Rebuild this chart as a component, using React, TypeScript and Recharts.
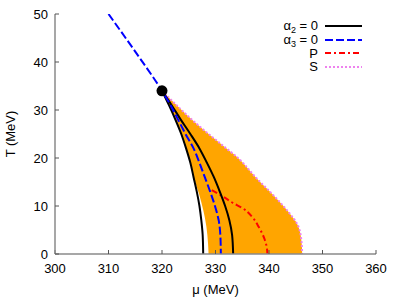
import React from 'react';
import { ComposedChart, Area, Line, XAxis, YAxis, ReferenceDot } from 'recharts';

const muTicks = [300, 310, 320, 330, 340, 350, 360];
const tTicks = [0, 10, 20, 30, 40, 50];

const criticalPoint = { mu: 320, T: 34 };

// alpha2 = 0 : two branches
const alpha2InnerT = [34, 31, 28, 25, 22, 19, 16, 13, 10, 7, 4, 0];
const alpha2InnerMu = [320, 321.3, 322.5, 323.6, 324.5, 325.3, 325.9, 326.5, 327.0, 327.35, 327.6, 327.7];
const alpha2OuterT = [34, 31, 28, 25, 22, 19, 16, 13, 10, 7, 4, 0];
const alpha2OuterMu = [320, 321.8, 323.5, 325.3, 327.0, 328.4, 329.7, 330.8, 331.8, 332.6, 333.1, 333.3];

// alpha3 = 0
const alpha3T = [50, 42, 34, 31, 28, 25, 22, 19, 16, 13, 10, 7, 4, 0];
const alpha3Mu = [310, 315.1, 320, 321.6, 323.0, 324.4, 325.9, 327.0, 328.0, 329.0, 329.9, 330.6, 330.9, 331.0];

// P
const pT = [13.3, 11.9, 10.6, 9.6, 7.8, 5.6, 3.3, 1.3, 0];
const pMu = [329.3, 331.5, 333.3, 335.0, 336.8, 338.1, 339.1, 339.6, 339.7];

// S
const sT = [34, 26.5, 23.1, 19.6, 16.1, 12.6, 9.2, 5.7, 2.3, 0];
const sMu = [320, 327.1, 330.8, 334.6, 337.4, 340.5, 343.3, 345.5, 346.1, 346.2];

// shaded region (left boundary vs S)
const regionT = [34, 26.5, 23.1, 19.6, 16.1, 12.6, 9.2, 5.7, 2.3, 0];
const regionLeft = [320, 323.1, 324.2, 325.2, 325.9, 326.9, 327.7, 328.3, 328.6, 328.7];
const regionRight = [320, 327.1, 330.8, 334.6, 337.4, 340.5, 343.3, 345.5, 346.1, 346.2];

const legendItems = [
  { base: 'α', sub: '2', rest: ' = 0', color: '#000000', dash: '', width: 2 },
  { base: 'α', sub: '3', rest: ' = 0', color: '#0000ff', dash: '8 3', width: 2 },
  { base: 'P', sub: '', rest: '', color: '#ff0000', dash: '6 3 2 3', width: 2 },
  { base: 'S', sub: '', rest: '', color: '#ee82ee', dash: '2 2', width: 2 },
];

const toRows = (ts: number[], mus: number[]) => ts.map((T, i) => ({ T, mu: mus[i] }));

const innerData = toRows(alpha2InnerT, alpha2InnerMu);
const outerData = toRows(alpha2OuterT, alpha2OuterMu);
const alpha3Data = toRows(alpha3T, alpha3Mu);
const pData = toRows(pT, pMu);
const sData = toRows(sT, sMu);
const regionData = regionT.map((T, i) => ({ T, range: [regionLeft[i], regionRight[i]] }));

const FONT = '"Liberation Sans", Arial, Helvetica, sans-serif';
const FRAME = '#8a8a8a';
const TICK = '#555555';

const noTick = () => <g />;

export default function App() {
  return (
    <div style={{ position: 'absolute', left: 0, top: 0, width: 399, height: 299, background: '#fff' }}>
      <ComposedChart
        width={399}
        height={299}
        layout="vertical"
        margin={{ top: 14, right: 23, left: 0, bottom: 0 }}
      >
        <XAxis
          xAxisId="bottom"
          type="number"
          orientation="bottom"
          domain={[300, 360]}
          ticks={muTicks}
          allowDataOverflow
          height={45}
          axisLine={{ stroke: FRAME, strokeWidth: 1.5 }}
          tickLine={{ stroke: TICK, strokeWidth: 1 }}
          tickSize={-4}
          tickMargin={13.5}
          tick={{ fontSize: 13, fill: '#000', fontFamily: FONT }}
          label={{
            content: (p: any) => {
              const vb = p.viewBox || { x: 55, y: 254, width: 321, height: 45 };
              return (
                <text x={vb.x + vb.width / 2} y={vb.y + 39.5} textAnchor="middle" fontSize={13} fontFamily={FONT} fill="#000">
                  μ (MeV)
                </text>
              );
            },
          }}
        />
        <XAxis
          xAxisId="top"
          type="number"
          orientation="top"
          domain={[300, 360]}
          ticks={muTicks}
          allowDataOverflow
          height={0}
          axisLine={{ stroke: FRAME, strokeWidth: 1.5 }}
          tickLine={{ stroke: TICK, strokeWidth: 1 }}
          tickSize={-4}
          tick={noTick}
        />
        <YAxis
          yAxisId="left"
          type="number"
          dataKey="T"
          orientation="left"
          domain={[0, 50]}
          ticks={tTicks}
          reversed
          allowDataOverflow
          width={55}
          axisLine={{ stroke: FRAME, strokeWidth: 1.5 }}
          tickLine={{ stroke: TICK, strokeWidth: 1 }}
          tickSize={-4}
          tickMargin={11}
          tick={{ fontSize: 13, fill: '#000', fontFamily: FONT }}
          label={{
            content: (p: any) => {
              const vb = p.viewBox || { x: 0, y: 14, width: 55, height: 240 };
              const cx = vb.x + 14.5;
              const cy = vb.y + vb.height / 2;
              return (
                <text x={cx} y={cy} transform={`rotate(-90 ${cx} ${cy})`} textAnchor="middle" fontSize={13} fontFamily={FONT} fill="#000">
                  T (MeV)
                </text>
              );
            },
          }}
        />
        <YAxis
          yAxisId="right"
          type="number"
          orientation="right"
          domain={[0, 50]}
          ticks={tTicks}
          reversed
          allowDataOverflow
          width={0}
          axisLine={{ stroke: FRAME, strokeWidth: 1.5 }}
          tickLine={{ stroke: TICK, strokeWidth: 1 }}
          tickSize={-4}
          tick={noTick}
        />

        <Area
          xAxisId="bottom"
          yAxisId="left"
          data={regionData}
          dataKey="range"
          type="monotone"
          fill="#ffa500"
          fillOpacity={1}
          stroke="none"
          isAnimationActive={false}
        />
        <Line
          xAxisId="bottom"
          yAxisId="left"
          data={sData}
          dataKey="mu"
          type="monotone"
          stroke="#ee82ee"
          strokeWidth={2}
          strokeDasharray="2 2"
          dot={false}
          activeDot={false}
          isAnimationActive={false}
        />
        <Line
          xAxisId="bottom"
          yAxisId="left"
          data={pData}
          dataKey="mu"
          type="monotone"
          stroke="#ff0000"
          strokeWidth={2}
          strokeDasharray="6 3 2 3"
          dot={false}
          activeDot={false}
          isAnimationActive={false}
        />
        <Line
          xAxisId="bottom"
          yAxisId="left"
          data={innerData}
          dataKey="mu"
          type="monotone"
          stroke="#000"
          strokeWidth={2}
          dot={false}
          activeDot={false}
          isAnimationActive={false}
        />
        <Line
          xAxisId="bottom"
          yAxisId="left"
          data={outerData}
          dataKey="mu"
          type="monotone"
          stroke="#000"
          strokeWidth={2}
          dot={false}
          activeDot={false}
          isAnimationActive={false}
        />
        <Line
          xAxisId="bottom"
          yAxisId="left"
          data={alpha3Data}
          dataKey="mu"
          type="monotone"
          stroke="#0000ff"
          strokeWidth={2}
          strokeDasharray="8 3"
          dot={false}
          activeDot={false}
          isAnimationActive={false}
        />
        <ReferenceDot
          xAxisId="bottom"
          yAxisId="left"
          x={criticalPoint.mu}
          y={criticalPoint.T}
          r={5.5}
          fill="#000"
          stroke="none"
        />
      </ComposedChart>

      <div
        style={{
          position: 'absolute',
          left: 200,
          top: 19.2,
          width: 162,
          fontFamily: FONT,
          fontSize: 13,
          color: '#000',
        }}
      >
        {legendItems.map((it, i) => (
          <div
            key={i}
            style={{ height: 13.6, display: 'flex', justifyContent: 'flex-end', alignItems: 'center' }}
          >
            <span style={{ lineHeight: 1, whiteSpace: 'pre' }}>
              {it.base}
              {it.sub ? (
                <sub style={{ fontSize: 9, lineHeight: 0, verticalAlign: -3 }}>{it.sub}</sub>
              ) : null}
              {it.rest}
            </span>
            <svg width={37} height={4} style={{ marginLeft: 7, display: 'block' }}>
              <line
                x1={0}
                y1={2}
                x2={37}
                y2={2}
                stroke={it.color}
                strokeWidth={it.width}
                strokeDasharray={it.dash || undefined}
              />
            </svg>
          </div>
        ))}
      </div>
    </div>
  );
}
